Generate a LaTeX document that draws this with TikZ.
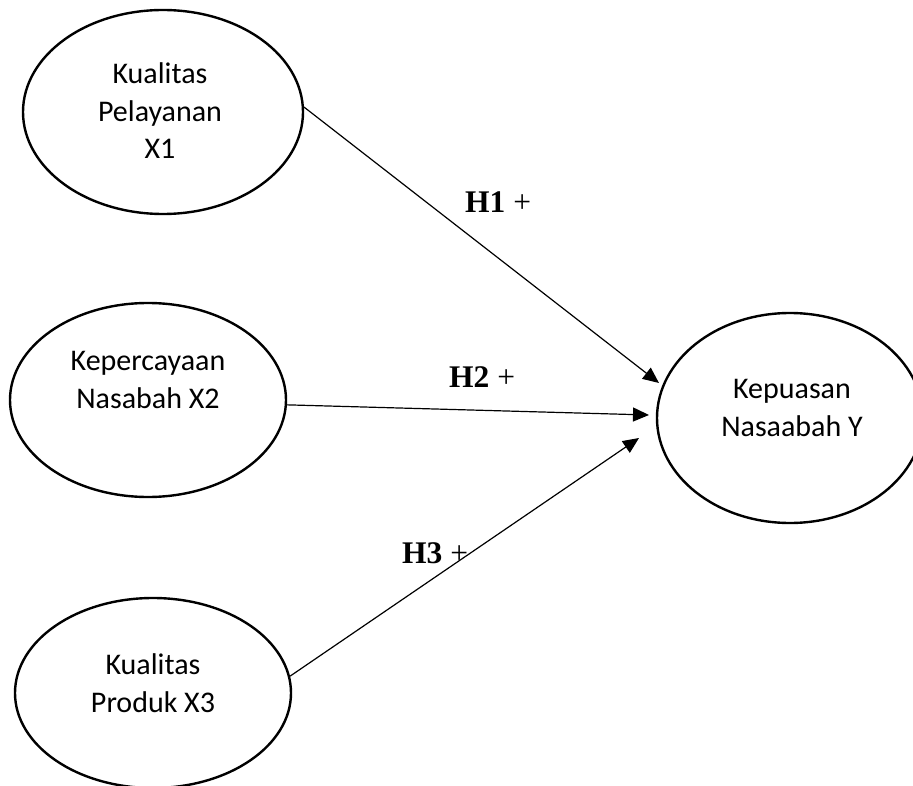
\documentclass[tikz,border=0pt]{standalone}
\usepackage{fontspec}
\setmainfont{Carlito}
\newfontfamily\hfont{Liberation Serif}
\usetikzlibrary{shapes.geometric,arrows.meta}
\tikzset{
  var/.style={draw, ellipse, line width=2.4pt, inner sep=0pt},
  vartext/.style={align=center, font=\fontsize{30}{37.5}\selectfont},
  hyp/.style={anchor=base west, inner sep=0pt, font=\hfont\fontsize{31.5}{36}\selectfont},
  link/.style={line width=1.2pt, -{Triangle[length=16pt,width=14pt]}}
}
\begin{document}
\begin{tikzpicture}[x=1pt,y=-1pt]
\useasboundingbox (0,0) rectangle (913,786);
\clip (0,0) rectangle (913,786);
\node[var, minimum width=280pt, minimum height=204pt] (x1e) at (163,112) {};
\node[var, minimum width=276pt, minimum height=194pt] (x2e) at (148,400) {};
\node[var, minimum width=276pt, minimum height=190pt] (x3e) at (153,693) {};
\node[var, minimum width=266pt, minimum height=210pt] (ye) at (790,418) {};
\node[vartext] (x1t) at (160,111) {Kualitas\\Pelayanan\\X1};
\node[vartext] (x2t) at (148,380) {Kepercayaan\\Nasabah X2};
\node[vartext] (x3t) at (153,683) {Kualitas\\Produk X3};
\node[vartext] (yt) at (792,408) {Kepuasan\\Nasaabah Y};
\coordinate (h1end) at (659,383);
\coordinate (h2end) at (649,415);
\coordinate (h3end) at (639,438);
\draw[link] (x1e.2) -- (h1end);
\draw[link] (x2e.-2) -- (h2end);
\draw[link] (x3e.7.5) -- (h3end);
\node[hyp] (h1) at (465,213) {\textbf{H1} +};
\node[hyp] (h2) at (449,387) {\textbf{H2} +};
\node[hyp] (h3) at (402,563) {\textbf{H3} +};
\end{tikzpicture}
\end{document}
